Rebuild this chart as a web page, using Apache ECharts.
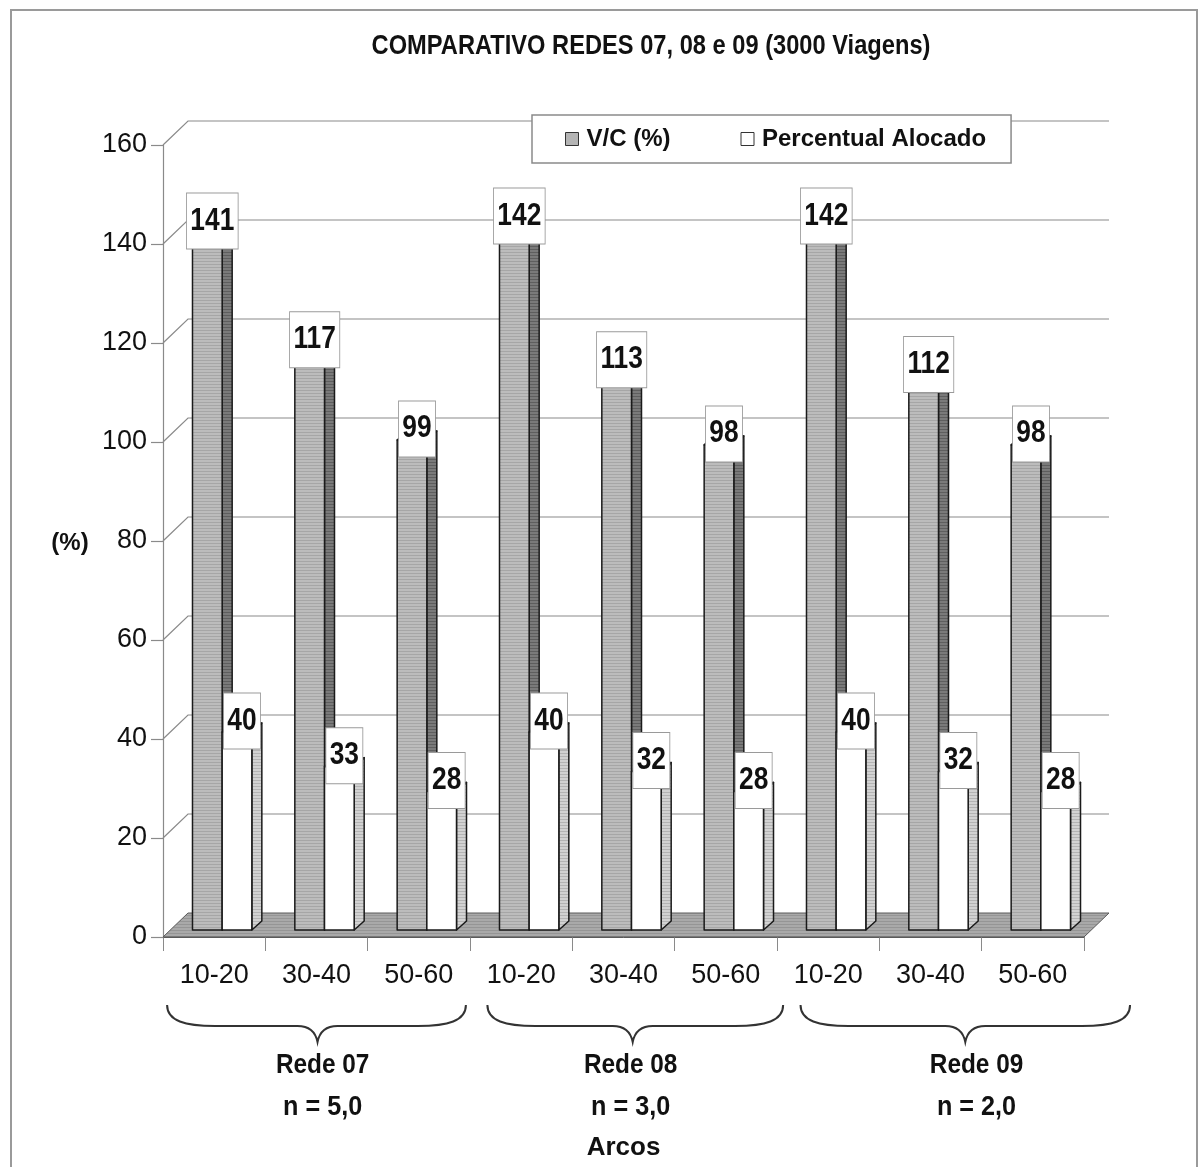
<!DOCTYPE html>
<html>
<head>
<meta charset="utf-8">
<script src="https://cdn.jsdelivr.net/npm/echarts@6/dist/echarts.min.js"></script>
<style>
  html, body { margin: 0; padding: 0; background: #fff; }
  #chart { width: 1200px; height: 1167px; }
</style>
</head>
<body>
<div id="chart"></div>
<script>
// ---- data ----
const categories = ['10-20', '30-40', '50-60', '10-20', '30-40', '50-60', '10-20', '30-40', '50-60'];
const vcValues = [141, 117, 99, 142, 113, 98, 142, 112, 98];
const alocadoValues = [40, 33, 28, 40, 32, 28, 40, 32, 28];
const yTicks = [0, 20, 40, 60, 80, 100, 120, 140, 160];
const seriesNames = ['V/C (%)', 'Percentual Alocado'];
const groupNames = ['Rede 07', 'Rede 08', 'Rede 09'];
const groupN = ['n = 5,0', 'n = 3,0', 'n = 2,0'];

// brace layout in category units: [start, tip, end, text centre]
const braceLayout = [[0.04, 1.51, 2.96, 1.56], [3.17, 4.59, 6.06, 4.57], [6.23, 7.84, 9.45, 7.95]];

// ---- pseudo-3D geometry ----
const WALL_DX = 25, WALL_DY = -24;   // depth of the floor / back wall
const BAR_DX = 8, BAR_DY = -7;       // bars stand a little behind the front edge
const SIDE_DX = 10, SIDE_DY = -9;    // thickness of each bar
const BAR_FRAC = 0.29;               // bar width as a fraction of the category band

const FONT = "'Liberation Sans', Arial, sans-serif";

function stripes(bg, line) {
  const c = document.createElement('canvas');
  c.width = 4; c.height = 3;
  const g = c.getContext('2d');
  g.fillStyle = bg; g.fillRect(0, 0, 4, 3);
  g.fillStyle = line; g.fillRect(0, 0, 4, 1);
  return { image: c, repeat: 'repeat' };
}

const floorFill = stripes('#a9a9a9', '#959595');
const barStyles = [
  { front: stripes('#bcbcbc', '#a6a6a6'), side: stripes('#7a7a7a', '#5e5e5e'), top: '#d2d2d2' },
  { front: '#ffffff', side: stripes('#d2d2d2', '#b4b4b4'), top: '#ffffff' }
];

function renderWall(params, api) {
  const cs = params.coordSys;
  const v = api.value(1);
  const y = api.coord([0, v])[1];
  const x0 = cs.x, x1 = cs.x + cs.width;
  if (v === 0) {
    return {
      type: 'polygon',
      shape: { points: [[x0, y], [x1, y], [x1 + WALL_DX, y + WALL_DY], [x0 + WALL_DX, y + WALL_DY]] },
      style: { fill: floorFill, stroke: '#5a5a5a', lineWidth: 1 }
    };
  }
  return {
    type: 'polyline',
    shape: { points: [[x0, y], [x0 + WALL_DX, y + WALL_DY], [x1 + WALL_DX, y + WALL_DY]] },
    style: { fill: null, stroke: '#8a8a8a', lineWidth: 1.2 }
  };
}

function makeBarRenderer(seriesIdx) {
  const st = barStyles[seriesIdx];
  return function (params, api) {
    const idx = api.value(0), v = api.value(1);
    const topPt = api.coord([idx, v]);
    const basePt = api.coord([idx, 0]);
    const band = api.size([1, 0])[0];
    const w = band * BAR_FRAC;
    const left = topPt[0] + BAR_DX + (seriesIdx === 0 ? -w : 0);
    const right = left + w;
    const top = topPt[1] + BAR_DY;
    const bottom = basePt[1] + BAR_DY;
    const edge = { stroke: '#1a1a1a', lineWidth: 1.5, lineJoin: 'round' };
    return {
      type: 'group',
      children: [
        { type: 'polygon', shape: { points: [[right, top], [right + SIDE_DX, top + SIDE_DY], [right + SIDE_DX, bottom + SIDE_DY], [right, bottom]] },
          style: Object.assign({ fill: st.side }, edge) },
        { type: 'polygon', shape: { points: [[left, top], [left + SIDE_DX, top + SIDE_DY], [right + SIDE_DX, top + SIDE_DY], [right, top]] },
          style: Object.assign({ fill: st.top }, edge) },
        { type: 'rect', shape: { x: left, y: top, width: w, height: bottom - top },
          style: Object.assign({ fill: st.front }, edge) },
        { type: 'text', x: (left + right + SIDE_DX) / 2, y: top - 11, z2: 10, scaleX: 0.85,
          style: {
            text: String(v), fontFamily: FONT, fontWeight: 'bold', fontSize: 31, fill: '#111',
            align: 'center', verticalAlign: 'middle',
            backgroundColor: '#fff', borderColor: '#9a9a9a', borderWidth: 1, padding: [12, 4, 12, 4]
          } }
      ]
    };
  };
}

function renderBrace(params, api) {
  const cs = params.coordSys;
  const band = cs.width / categories.length;
  const [u0, ut, u1, uc] = braceLayout[params.dataIndex];
  const x0 = cs.x + u0 * band, xt = cs.x + ut * band, x1 = cs.x + u1 * band, xc = cs.x + uc * band;
  const yTop = cs.y + cs.height + 68, yMid = yTop + 21, yTip = yTop + 37;
  const path = 'M' + x0 + ',' + yTop +
    ' C' + x0 + ',' + (yTop + 16) + ' ' + (x0 + 18) + ',' + yMid + ' ' + (x0 + 48) + ',' + yMid +
    ' L' + (xt - 20) + ',' + yMid +
    ' C' + (xt - 8) + ',' + yMid + ' ' + (xt - 2) + ',' + (yMid + 6) + ' ' + xt + ',' + yTip +
    ' C' + (xt + 2) + ',' + (yMid + 6) + ' ' + (xt + 8) + ',' + yMid + ' ' + (xt + 20) + ',' + yMid +
    ' L' + (x1 - 48) + ',' + yMid +
    ' C' + (x1 - 18) + ',' + yMid + ' ' + x1 + ',' + (yTop + 16) + ' ' + x1 + ',' + yTop;
  const textStyle = { fontFamily: FONT, fontWeight: 'bold', fontSize: 28, fill: '#111', align: 'center', verticalAlign: 'middle' };
  return {
    type: 'group',
    children: [
      { type: 'path', shape: { pathData: path }, style: { fill: null, stroke: '#333', lineWidth: 2 } },
      { type: 'text', x: xc, y: yTip + 23, scaleX: 0.87, style: Object.assign({ text: groupNames[params.dataIndex] }, textStyle) },
      { type: 'text', x: xc, y: yTip + 65, scaleX: 0.9, style: Object.assign({ text: groupN[params.dataIndex] }, textStyle) }
    ]
  };
}

const chart = echarts.init(document.getElementById('chart'), null, { renderer: 'canvas' });

chart.setOption({
  backgroundColor: '#fff',
  animation: false,
  grid: { left: 163, right: 116, top: 145, bottom: 230, containLabel: false, outerBoundsMode: 'none' },
  legend: {
    data: seriesNames,
    left: 532, top: 115,
    padding: [12, 25, 12, 33],
    itemGap: 70,
    itemWidth: 13, itemHeight: 13,
    icon: 'rect',
    backgroundColor: '#fff',
    borderColor: '#8a8a8a', borderWidth: 1.5,
    itemStyle: { borderColor: '#333', borderWidth: 1 },
    textStyle: { fontFamily: FONT, fontWeight: 'bold', fontSize: 24, color: '#111', padding: [0, 0, 0, 3] }
  },
  xAxis: {
    type: 'category',
    data: categories,
    name: 'Arcos',
    nameLocation: 'middle',
    nameGap: 198,
    nameTextStyle: { fontFamily: FONT, fontWeight: 'bold', fontSize: 26, color: '#111' },
    axisLine: { show: true, lineStyle: { color: '#5a5a5a', width: 1 } },
    axisTick: { show: true, interval: 0, length: 14, lineStyle: { color: '#8a8a8a' } },
    axisLabel: { interval: 0, margin: 25, fontFamily: FONT, fontSize: 27, color: '#111' },
    splitLine: { show: false }
  },
  yAxis: {
    type: 'value',
    min: 0, max: 160, interval: 20,
    axisLine: { show: true, lineStyle: { color: '#8a8a8a', width: 1.2 } },
    axisTick: { show: true, length: 12, lineStyle: { color: '#8a8a8a', width: 1.2 } },
    axisLabel: { margin: 16, fontFamily: FONT, fontSize: 27, color: '#111',
      formatter: function (v) { return yTicks.indexOf(v) >= 0 ? String(v) : ''; } },
    splitLine: { show: false }
  },
  graphic: [
    { type: 'rect', z: -10, shape: { x: 11, y: 10, width: 1186, height: 1175 },
      style: { fill: null, stroke: '#9a9a9a', lineWidth: 2 } },
    { type: 'text', x: 651, y: 46, scaleX: 0.845,
      style: { text: 'COMPARATIVO REDES 07, 08 e 09 (3000 Viagens)', fontFamily: FONT, fontWeight: 'bold', fontSize: 28,
        fill: '#111', align: 'center', verticalAlign: 'middle' } },
    { type: 'text', x: 70, y: 543,
      style: { text: '(%)', fontFamily: FONT, fontWeight: 'bold', fontSize: 24,
        fill: '#111', align: 'center', verticalAlign: 'middle' } }
  ],
  series: [
    {
      type: 'custom', z: 1, silent: true,
      renderItem: renderWall,
      data: yTicks.map(v => [0, v])
    },
    {
      type: 'custom', name: seriesNames[0], z: 2,
      itemStyle: { color: '#b4b4b4', borderColor: '#333', borderWidth: 1 },
      renderItem: makeBarRenderer(0),
      data: vcValues.map((v, i) => [i, v])
    },
    {
      type: 'custom', name: seriesNames[1], z: 3,
      itemStyle: { color: '#ffffff', borderColor: '#333', borderWidth: 1 },
      renderItem: makeBarRenderer(1),
      data: alocadoValues.map((v, i) => [i, v])
    },
    {
      type: 'custom', z: 2, silent: true, clip: false,
      renderItem: renderBrace,
      data: groupNames.map((g, i) => [i, 0])
    }
  ]
});
</script>
</body>
</html>
